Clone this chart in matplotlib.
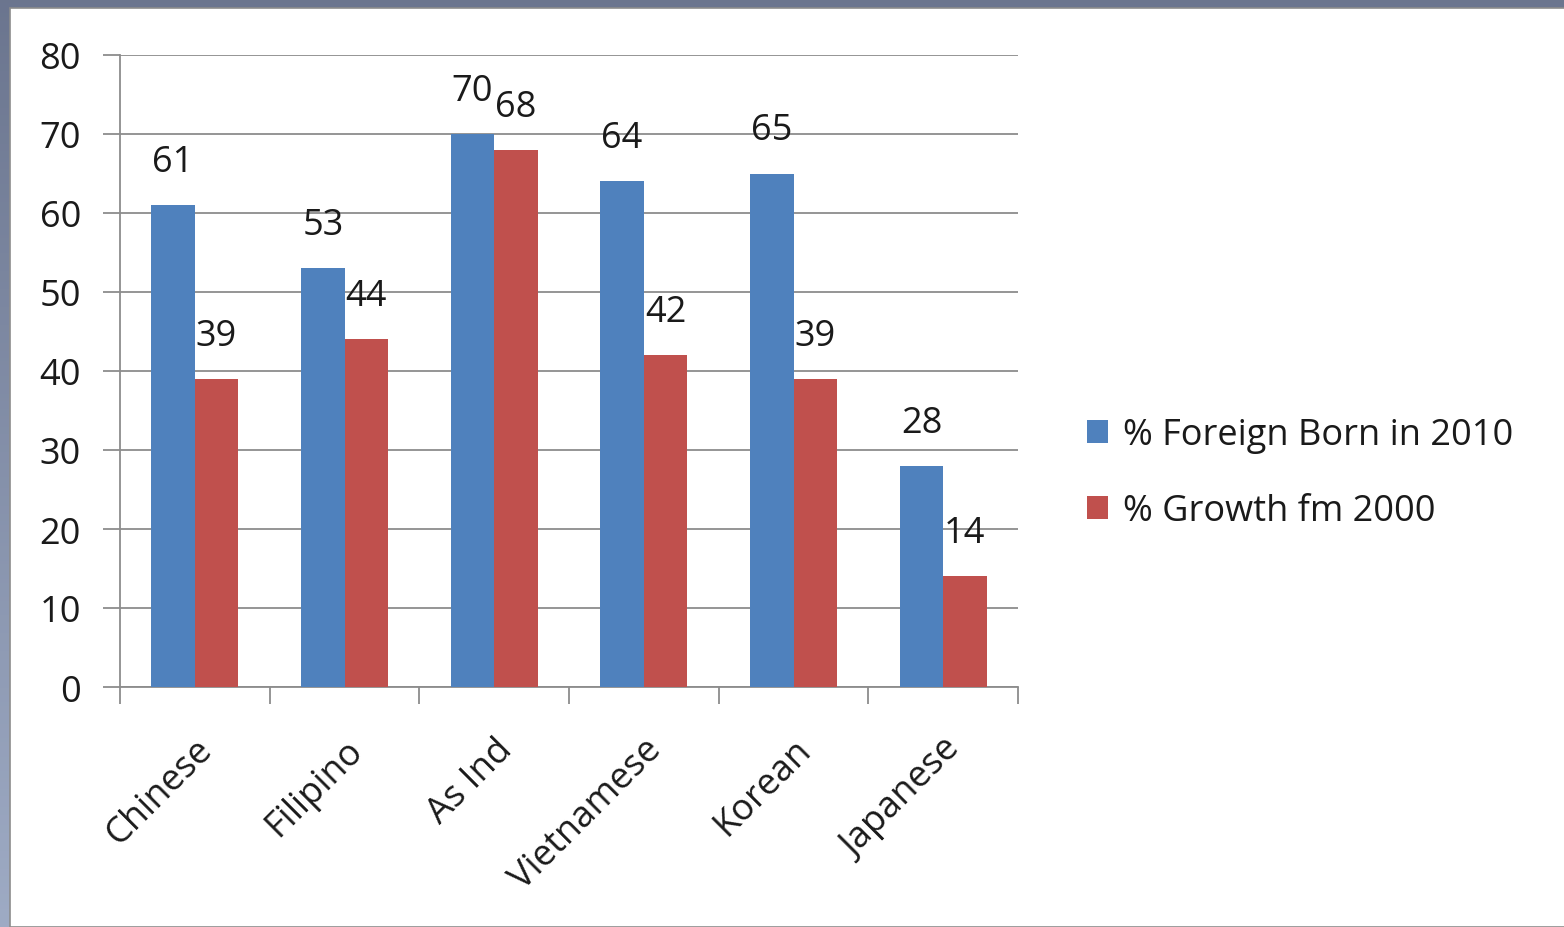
import numpy as np
import matplotlib
matplotlib.use("Agg")
import matplotlib.pyplot as plt
from matplotlib.patches import Rectangle

categories = ["Chinese", "Filipino", "As Ind", "Vietnamese", "Korean", "Japanese"]
foreign_born_2010 = [61, 53, 70, 64, 65, 28]
growth_from_2000 = [39, 44, 68, 42, 39, 14]
series_names = ["% Foreign Born in 2010", "% Growth fm 2000"]
y_ticks = [0, 10, 20, 30, 40, 50, 60, 70, 80]

plt.rcParams["font.family"] = ["Open Sans", "DejaVu Sans"]

W, H = 1564, 928
fig = plt.figure(figsize=(W / 100, H / 100), dpi=100)

# slide frame: gradient bands along top and left edges
bg = fig.add_axes([0, 0, 1, 1])
bg.set_axis_off()
gx = np.linspace(0, 1, 256)[None, :]
top = np.array([0.62, 0.67, 0.77])[None, None, :] * (1 - gx[..., None]) + \
      np.array([0.33, 0.35, 0.43])[None, None, :] * gx[..., None]
bg.imshow(top, extent=[0, 1, 0, 1], aspect="auto")
bg.set_xlim(0, 1)
bg.set_ylim(0, 1)
gy = np.linspace(0, 1, 256)[:, None]
left = np.array([0.62, 0.67, 0.77])[None, None, :] * (1 - gy[..., None]) + \
       np.array([0.42, 0.46, 0.56])[None, None, :] * gy[..., None]
bg.imshow(left[::-1], extent=[0, 1, 0, 1], aspect="auto")
bg.add_patch(Rectangle((10 / W, 0), 1, 1 - 9 / H, transform=fig.transFigure,
                       facecolor="white", edgecolor="#8c8c8c", linewidth=1.2, zorder=5))

ax = fig.add_axes([120 / W, 1 - 688 / H, 898 / W, 632 / H])
ax.set_zorder(10)
ax.patch.set_alpha(0)

FS = 26
x = np.arange(len(categories))
w = 0.29
blue, red = "#4F81BD", "#C0504D"
b1 = ax.bar(x - w / 2, foreign_born_2010, w, color=blue, label=series_names[0], zorder=3)
b2 = ax.bar(x + w / 2, growth_from_2000, w, color=red, label=series_names[1], zorder=3)

for bars, vals in ((b1, foreign_born_2010), (b2, growth_from_2000)):
    for r, v in zip(bars, vals):
        ax.annotate(str(v), (r.get_x() + r.get_width() / 2, v), xytext=(0, 43),
                    textcoords="offset pixels", ha="center", va="center",
                    fontsize=FS, color="#1a1a1a")

ax.set_xlim(-0.5, len(categories) - 0.5)
ax.set_ylim(0, 80)
ax.set_yticks(y_ticks)
ax.yaxis.grid(True, color="#8c8c8c", linewidth=1.3, zorder=0)
ax.set_axisbelow(True)

ax.set_xticks(np.arange(-0.5, len(categories), 1))
ax.set_xticklabels([])
ax.set_xticks(x, minor=True)
ax.set_xticklabels(categories, minor=True, rotation=45, ha="right",
                   rotation_mode="anchor", fontsize=FS, color="#1a1a1a")
ax.tick_params(axis="x", which="major", length=12, width=1.3, color="#8c8c8c")
ax.tick_params(axis="x", which="minor", length=0, pad=32)
ax.tick_params(axis="y", length=12, width=1.3, color="#8c8c8c",
               labelsize=FS, labelcolor="#1a1a1a", pad=16)

for s in ("top", "right"):
    ax.spines[s].set_visible(False)
for s in ("left", "bottom"):
    ax.spines[s].set_color("#8c8c8c")
    ax.spines[s].set_linewidth(1.3)

leg = fig.legend(handles=[b1, b2], labels=series_names, loc="center left",
                 bbox_to_anchor=(1054 / W, 1 - 474 / H), frameon=False,
                 fontsize=FS, handlelength=0.6, handleheight=0.6,
                 handletextpad=0.4, labelspacing=1.1, labelcolor="#1a1a1a")
leg.set_zorder(20)

fig.savefig("out.png", dpi=100)
